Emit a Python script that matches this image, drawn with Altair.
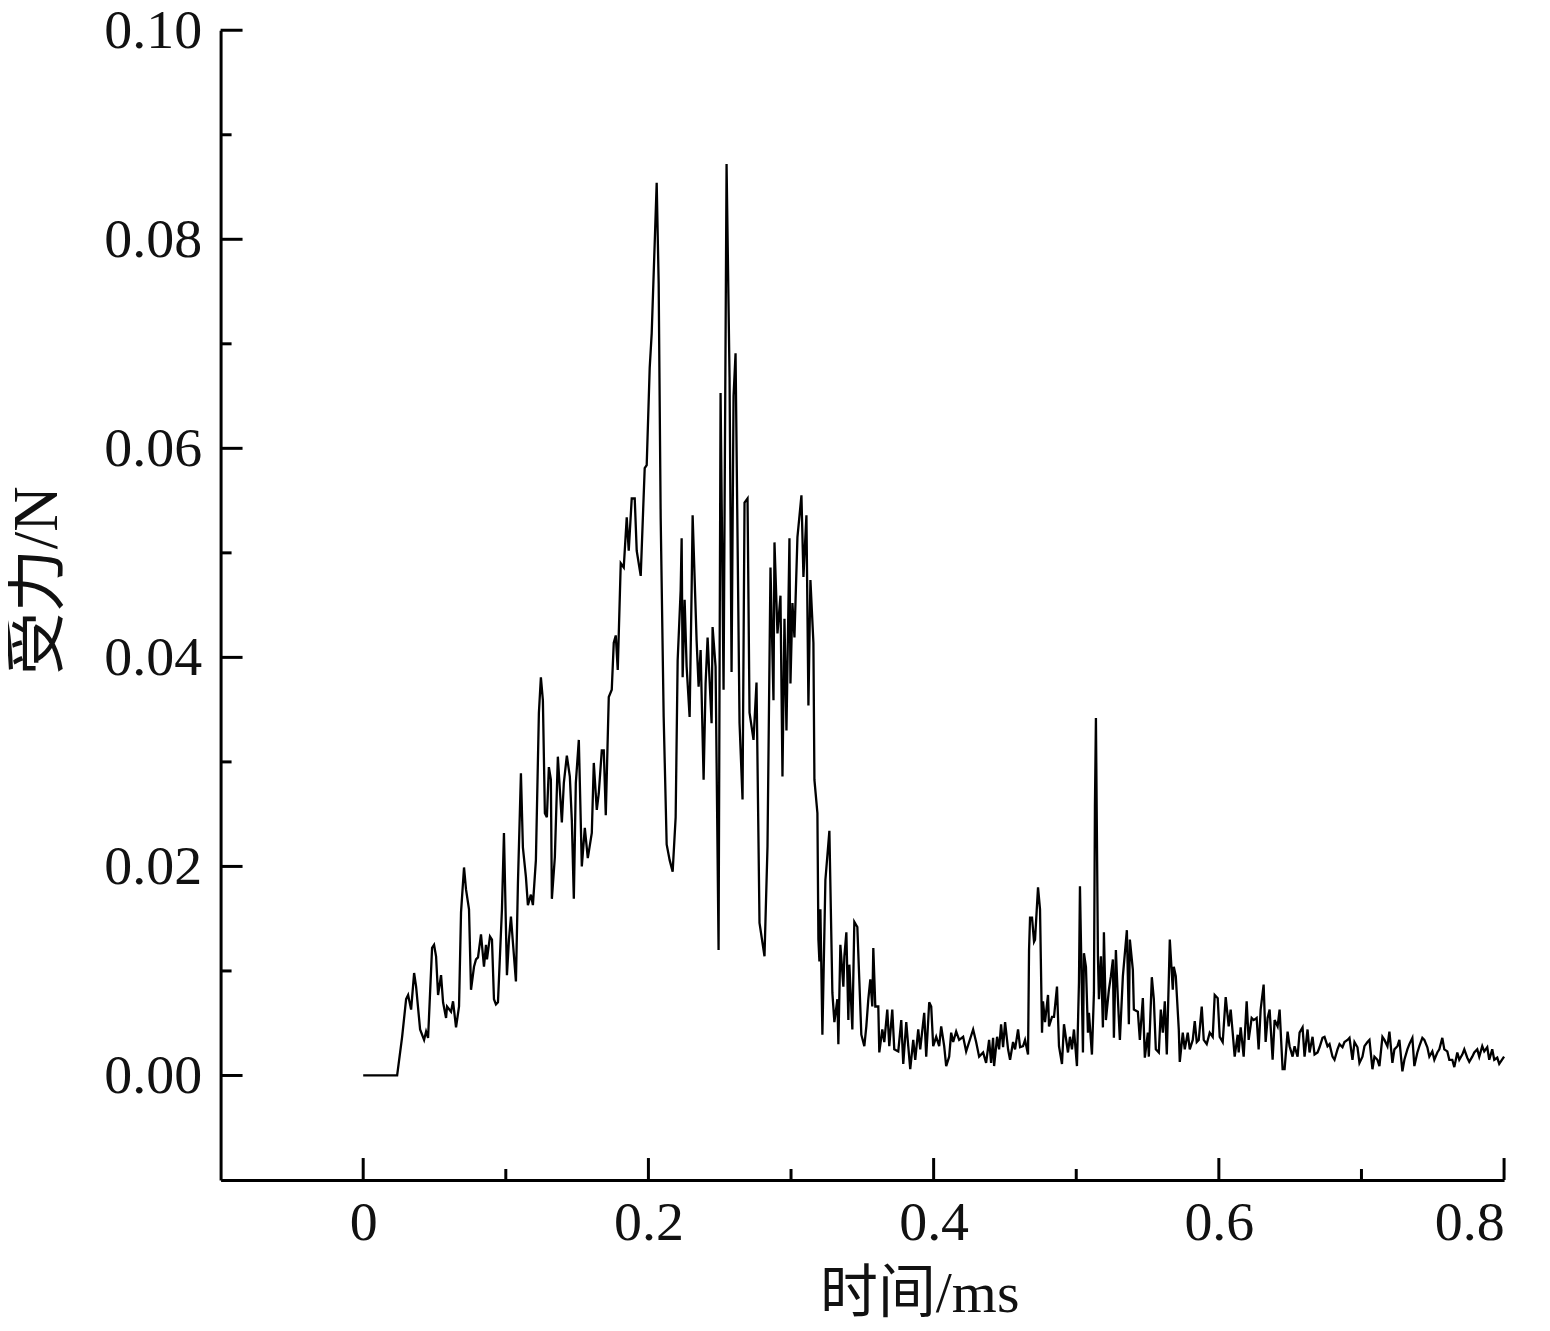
import altair as alt
import pandas as pd

time_ms = [
    0.0, 0.0238, 0.0273, 0.0301, 0.0315, 0.0336, 0.0357, 0.0371, 0.0399, 0.0427,
    0.0441, 0.0455, 0.0483, 0.0497, 0.0511, 0.0525, 0.0546, 0.0560, 0.0581, 0.0588,
    0.0616, 0.0630, 0.0651, 0.0672, 0.0686, 0.0707, 0.0721, 0.0742, 0.0756, 0.0777,
    0.0791, 0.0805, 0.0826, 0.0847, 0.0861, 0.0868, 0.0889, 0.0903, 0.0917, 0.0931,
    0.0945, 0.0973, 0.0987, 0.1008, 0.1022, 0.1036, 0.1050, 0.1071, 0.1085, 0.1106,
    0.1120, 0.1141, 0.1155, 0.1176, 0.1190, 0.1211, 0.1232, 0.1246, 0.1260, 0.1274,
    0.1288, 0.1302, 0.1316, 0.1323, 0.1344, 0.1365, 0.1393, 0.1407, 0.1428, 0.1449,
    0.1463, 0.1477, 0.1491, 0.1512, 0.1533, 0.1554, 0.1575, 0.1603, 0.1617, 0.1638,
    0.1652, 0.1673, 0.1687, 0.1701, 0.1722, 0.1743, 0.1757, 0.1771, 0.1785, 0.1806,
    0.1827, 0.1848, 0.1862, 0.1883, 0.1904, 0.1918, 0.1946, 0.1974, 0.1988, 0.2009,
    0.2023, 0.2044, 0.2058, 0.2072, 0.2086, 0.2107, 0.2128, 0.2149, 0.2170, 0.2191,
    0.2205, 0.2226, 0.2233, 0.2240, 0.2254, 0.2268, 0.2289, 0.2303, 0.2310, 0.2338,
    0.2352, 0.2366, 0.2387, 0.2401, 0.2415, 0.2443, 0.2450, 0.2471, 0.2492, 0.2506,
    0.2527, 0.2548, 0.2569, 0.2583, 0.2597, 0.2611, 0.2639, 0.2660, 0.2674, 0.2695,
    0.2709, 0.2737, 0.2758, 0.2779, 0.2814, 0.2835, 0.2856, 0.2877, 0.2884, 0.2905,
    0.2926, 0.2940, 0.2954, 0.2968, 0.2989, 0.2996, 0.3010, 0.3024, 0.3045, 0.3073,
    0.3087, 0.3108, 0.3122, 0.3136, 0.3157, 0.3164, 0.3185, 0.3192, 0.3199, 0.3206,
    0.3220, 0.3241, 0.3269, 0.3290, 0.3304, 0.3325, 0.3332, 0.3346, 0.3367, 0.3374,
    0.3388, 0.3402, 0.3409, 0.3430, 0.3444, 0.3465, 0.3493, 0.3514, 0.3528, 0.3542,
    0.3556, 0.3570, 0.3577, 0.3591, 0.3612, 0.3619, 0.3640, 0.3654, 0.3675, 0.3689,
    0.3710, 0.3724, 0.3752, 0.3773, 0.3787, 0.3808, 0.3822, 0.3836, 0.3857, 0.3871,
    0.3892, 0.3906, 0.3934, 0.3948, 0.3969, 0.3983, 0.3997, 0.4018, 0.4039, 0.4053,
    0.4074, 0.4088, 0.4109, 0.4123, 0.4137, 0.4158, 0.4179, 0.4207, 0.4228, 0.4249,
    0.4277, 0.4298, 0.4319, 0.4347, 0.4368, 0.4389, 0.4403, 0.4417, 0.4424, 0.4445,
    0.4459, 0.4473, 0.4487, 0.4501, 0.4522, 0.4536, 0.4557, 0.4571, 0.4592, 0.4606,
    0.4627, 0.4641, 0.4662, 0.4669, 0.4676, 0.4690, 0.4704, 0.4711, 0.4732, 0.4746,
    0.4760, 0.4767, 0.4781, 0.4802, 0.4809, 0.4830, 0.4844, 0.4865, 0.4879, 0.4900,
    0.4914, 0.4942, 0.4956, 0.4970, 0.4984, 0.5005, 0.5019, 0.5026, 0.5047, 0.5054,
    0.5068, 0.5082, 0.5089, 0.5110, 0.5124, 0.5131, 0.5138, 0.5152, 0.5159, 0.5173,
    0.5187, 0.5194, 0.5208, 0.5229, 0.5243, 0.5257, 0.5264, 0.5278, 0.5292, 0.5306,
    0.5327, 0.5341, 0.5355, 0.5369, 0.5376, 0.5397, 0.5404, 0.5432, 0.5446, 0.5467,
    0.5481, 0.5502, 0.5509, 0.5530, 0.5544, 0.5558, 0.5579, 0.5593, 0.5607, 0.5621,
    0.5635, 0.5649, 0.5656, 0.5677, 0.5684, 0.5698, 0.5719, 0.5726, 0.5747, 0.5761,
    0.5782, 0.5796, 0.5817, 0.5831, 0.5845, 0.5859, 0.5880, 0.5894, 0.5915, 0.5936,
    0.5957, 0.5971, 0.5992, 0.6006, 0.6027, 0.6048, 0.6069, 0.6083, 0.6097, 0.6111,
    0.6132, 0.6139, 0.6153, 0.6174, 0.6195, 0.6209, 0.6230, 0.6244, 0.6265, 0.6279,
    0.6293, 0.6314, 0.6328, 0.6342, 0.6356, 0.6377, 0.6391, 0.6412, 0.6426, 0.6447,
    0.6461, 0.6482, 0.6496, 0.6517, 0.6531, 0.6552, 0.6566, 0.6587, 0.6601, 0.6622,
    0.6636, 0.6657, 0.6671, 0.6692, 0.6706, 0.6727, 0.6741, 0.6762, 0.6776, 0.6797,
    0.6811, 0.6832, 0.6846, 0.6867, 0.6881, 0.6902, 0.6916, 0.6937, 0.6951, 0.6972,
    0.6986, 0.7007, 0.7021, 0.7042, 0.7056, 0.7077, 0.7091, 0.7112, 0.7126, 0.7147,
    0.7161, 0.7182, 0.7196, 0.7217, 0.7231, 0.7252, 0.7266, 0.7287, 0.7301, 0.7322,
    0.7336, 0.7357, 0.7371, 0.7392, 0.7406, 0.7427, 0.7441, 0.7462, 0.7476, 0.7497,
    0.7511, 0.7532, 0.7546, 0.7567, 0.7581, 0.7602, 0.7616, 0.7637, 0.7651, 0.7672,
    0.7686, 0.7707, 0.7721, 0.7742, 0.7756, 0.7777, 0.7791, 0.7812, 0.7826, 0.7847,
    0.7861, 0.7882, 0.7896, 0.7917, 0.7931, 0.7952, 0.7966, 0.8000,
]

force_n = [
    0.0, 0.0, 0.0037, 0.0073, 0.0077, 0.0063, 0.0098, 0.0085, 0.0044, 0.0034,
    0.0042, 0.0036, 0.0122, 0.0125, 0.0114, 0.0077, 0.0096, 0.0070, 0.0055, 0.0066,
    0.0061, 0.0071, 0.0046, 0.0066, 0.0156, 0.0199, 0.0178, 0.0159, 0.0082, 0.0104,
    0.0111, 0.0113, 0.0135, 0.0104, 0.0125, 0.0111, 0.0133, 0.0130, 0.0073, 0.0068,
    0.0070, 0.0159, 0.0232, 0.0096, 0.0130, 0.0152, 0.0127, 0.0090, 0.0184, 0.0289,
    0.0218, 0.0190, 0.0163, 0.0173, 0.0163, 0.0206, 0.0347, 0.0381, 0.0359, 0.0251,
    0.0247, 0.0295, 0.0283, 0.0169, 0.0209, 0.0305, 0.0242, 0.0280, 0.0306, 0.0286,
    0.0244, 0.0169, 0.0280, 0.0321, 0.0200, 0.0237, 0.0208, 0.0232, 0.0299, 0.0254,
    0.0270, 0.0311, 0.0311, 0.0249, 0.0362, 0.0369, 0.0414, 0.0421, 0.0388, 0.0490,
    0.0486, 0.0534, 0.0502, 0.0552, 0.0552, 0.0502, 0.0478, 0.0581, 0.0584, 0.0677,
    0.0710, 0.0796, 0.0854, 0.0757, 0.0534, 0.0343, 0.0221, 0.0206, 0.0195, 0.0247,
    0.0397, 0.0464, 0.0514, 0.0381, 0.0455, 0.0391, 0.0343, 0.0464, 0.0536, 0.0416,
    0.0372, 0.0407, 0.0283, 0.0375, 0.0419, 0.0337, 0.0429, 0.0391, 0.0120, 0.0653,
    0.0369, 0.0872, 0.0668, 0.0386, 0.0650, 0.0691, 0.0337, 0.0264, 0.0548, 0.0552,
    0.0347, 0.0321, 0.0376, 0.0146, 0.0114, 0.0219, 0.0486, 0.0359, 0.0510, 0.0423,
    0.0459, 0.0286, 0.0437, 0.0330, 0.0514, 0.0375, 0.0452, 0.0419, 0.0515, 0.0555,
    0.0477, 0.0536, 0.0354, 0.0474, 0.0414, 0.0283, 0.0251, 0.0130, 0.0109, 0.0159,
    0.0039, 0.0187, 0.0234, 0.0079, 0.0051, 0.0073, 0.0030, 0.0125, 0.0085, 0.0114,
    0.0137, 0.0053, 0.0106, 0.0044, 0.0147, 0.0142, 0.0039, 0.0028, 0.0047, 0.0073,
    0.0092, 0.0066, 0.0122, 0.0066, 0.0066, 0.0022, 0.0044, 0.0032, 0.0063, 0.0028,
    0.0063, 0.0025, 0.0023, 0.0053, 0.0011, 0.0051, 0.0028, 0.0006, 0.0034, 0.0015,
    0.0044, 0.0025, 0.0060, 0.0018, 0.0070, 0.0066, 0.0028, 0.0037, 0.0028, 0.0047,
    0.0028, 0.0009, 0.0018, 0.0041, 0.0032, 0.0042, 0.0034, 0.0037, 0.0023, 0.0032,
    0.0044, 0.0032, 0.0018, 0.0022, 0.0012, 0.0034, 0.0012, 0.0036, 0.0009, 0.0037,
    0.0025, 0.0049, 0.0027, 0.0051, 0.0025, 0.0015, 0.0032, 0.0025, 0.0044, 0.0027,
    0.0028, 0.0034, 0.0020, 0.0120, 0.0151, 0.0151, 0.0128, 0.0130, 0.0180, 0.0159,
    0.0041, 0.0071, 0.0051, 0.0077, 0.0047, 0.0056, 0.0056, 0.0085, 0.0028, 0.0011,
    0.0049, 0.0022, 0.0037, 0.0025, 0.0044, 0.0009, 0.0089, 0.0181, 0.0022, 0.0117,
    0.0104, 0.0041, 0.0060, 0.0020, 0.0079, 0.0257, 0.0342, 0.0114, 0.0073, 0.0114,
    0.0046, 0.0137, 0.0053, 0.0082, 0.0095, 0.0111, 0.0036, 0.0120, 0.0073, 0.0034,
    0.0095, 0.0117, 0.0139, 0.0049, 0.0130, 0.0101, 0.0063, 0.0061, 0.0034, 0.0074,
    0.0017, 0.0041, 0.0018, 0.0094, 0.0073, 0.0025, 0.0022, 0.0063, 0.0041, 0.0071,
    0.0020, 0.0092, 0.0130, 0.0082, 0.0104, 0.0095, 0.0044, 0.0013, 0.0041, 0.0025,
    0.0041, 0.0025, 0.0034, 0.0052, 0.0032, 0.0034, 0.0066, 0.0034, 0.0030, 0.0041,
    0.0037, 0.0077, 0.0074, 0.0037, 0.0032, 0.0075, 0.0047, 0.0063, 0.0041, 0.0018,
    0.0039, 0.0022, 0.0046, 0.0018, 0.0071, 0.0034, 0.0055, 0.0053, 0.0055, 0.0025,
    0.0063, 0.0087, 0.0032, 0.0055, 0.0063, 0.0015, 0.0053, 0.0047, 0.0063, 0.0006,
    0.0006, 0.0042, 0.0028, 0.0018, 0.0028, 0.0018, 0.0041, 0.0046, 0.0018, 0.0044,
    0.0022, 0.0037, 0.0020, 0.0022, 0.0027, 0.0036, 0.0037, 0.0028, 0.0030, 0.0018,
    0.0015, 0.0025, 0.0030, 0.0027, 0.0032, 0.0034, 0.0036, 0.0015, 0.0032, 0.0027,
    0.0012, 0.0018, 0.0028, 0.0032, 0.0034, 0.0006, 0.0018, 0.0015, 0.0009, 0.0037,
    0.0034, 0.0028, 0.0042, 0.0012, 0.0025, 0.0028, 0.0034, 0.0004, 0.0015, 0.0025,
    0.0030, 0.0036, 0.0009, 0.0022, 0.0028, 0.0036, 0.0034, 0.0027, 0.0018, 0.0023,
    0.0015, 0.0022, 0.0025, 0.0036, 0.0025, 0.0023, 0.0015, 0.0015, 0.0008, 0.0022,
    0.0015, 0.0020, 0.0025, 0.0017, 0.0013, 0.0018, 0.0022, 0.0025, 0.0018, 0.0028,
    0.0023, 0.0027, 0.0015, 0.0025, 0.0015, 0.0017, 0.0011, 0.0018,
]

x_major = [0.0, 0.2, 0.4, 0.6, 0.8]
x_minor = [0.1, 0.3, 0.5, 0.7]
y_major = [0.00, 0.02, 0.04, 0.06, 0.08, 0.10]
y_minor = [0.01, 0.03, 0.05, 0.07, 0.09]

assert len(time_ms) == len(force_n)

df = pd.DataFrame({"t": time_ms, "f": force_n})

W, H = 1286, 1152
MAJOR, MINOR = 22, 11
FONT = "Liberation Serif, Noto Sans CJK SC"

xs = alt.Scale(domain=[-0.1, 0.8], nice=False, zero=False)
ys = alt.Scale(domain=[-0.01, 0.10], nice=False, zero=False)

line = alt.Chart(df).mark_line(color="black", strokeWidth=2.3, strokeJoin="miter").encode(
    x=alt.X("t:Q", scale=xs,
            axis=alt.Axis(values=x_major, format=".1~f", title="时间/ms",
                          labelPadding=16, titleX=700, titleY=115, titleFontSize=58,
                          titleAlign="center", titleBaseline="middle")),
    y=alt.Y("f:Q", scale=ys,
            axis=alt.Axis(values=y_major, format=".2f", title="受力/N",
                          labelPadding=19, titleX=-183, titleY=551, titleAngle=-90,
                          titleFontSize=63,
                          titleAlign="center", titleBaseline="middle")),
)

def xticks(vals, length):
    return alt.Chart(pd.DataFrame({"v": vals})).mark_rule(color="black", strokeWidth=3).encode(
        x=alt.X("v:Q", scale=xs),
        y=alt.value(H),
        y2=alt.value(H - length),
    )

def yticks(vals, length):
    return alt.Chart(pd.DataFrame({"v": vals})).mark_rule(color="black", strokeWidth=3).encode(
        y=alt.Y("v:Q", scale=ys),
        x=alt.value(0),
        x2=alt.value(length),
    )

chart = alt.layer(
    line,
    xticks(x_major, MAJOR),
    xticks(x_minor, MINOR),
    yticks(y_major, MAJOR),
    yticks(y_minor, MINOR),
).properties(
    width=W,
    height=H,
    autosize=alt.AutoSizeParams(type="none"),
    padding={"left": 213, "top": 21, "right": 38, "bottom": 141},
    background="white",
).configure_view(
    strokeWidth=0
).configure_axis(
    grid=False,
    ticks=False,
    tickSize=0,
    domainColor="black",
    domainWidth=3,
    labelFont=FONT,
    labelFontSize=56,
    labelColor="#111111",
    titleFont=FONT,
    titleFontWeight="normal",
    titleColor="#111111",
)

chart.save("out.html", embed_options={"renderer": "svg", "actions": False})
